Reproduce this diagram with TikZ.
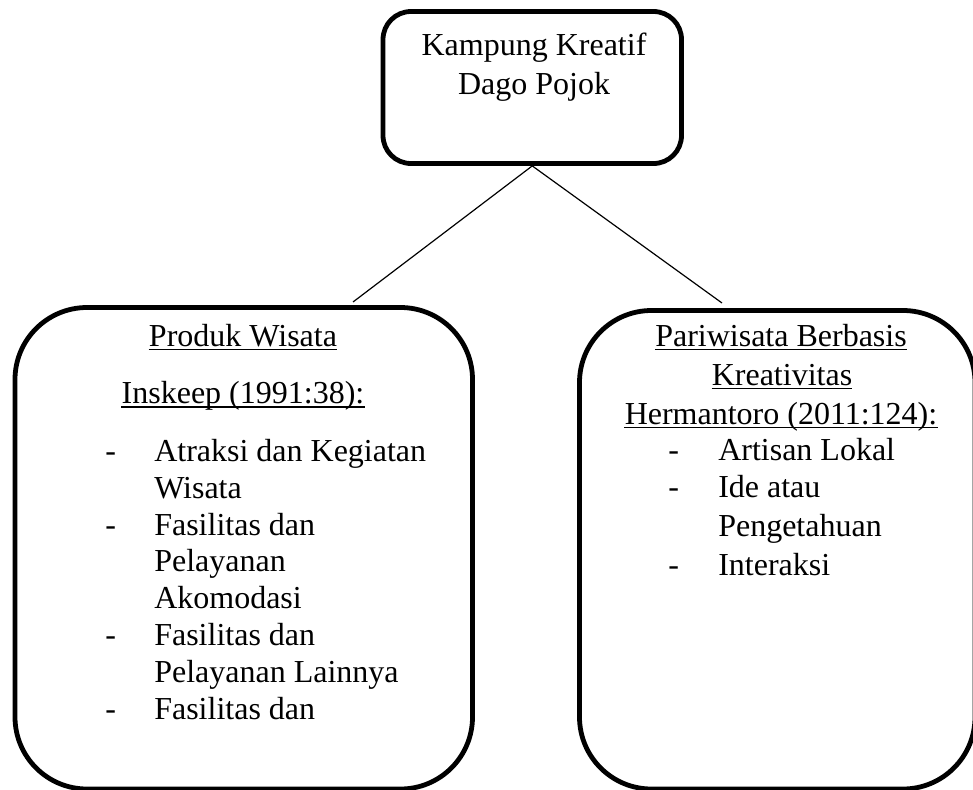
\documentclass[tikz,border=0pt]{standalone}
\usepackage{fontspec}
\setmainfont{Liberation Serif}
\usetikzlibrary{fit}

\begin{document}
\begin{tikzpicture}[
  x=0.75pt,
  y=-0.75pt,
  line join=round,
  box/.style={draw, line width=3.6pt, inner sep=0pt},
  txt/.style={inner sep=0pt, font=\fontsize{24}{28}\selectfont},
  link/.style={line width=0.9pt},
  uline/.style={line width=1.1pt}
]

\clip (0,0) rectangle (973,789);

% ---------- parameters ----------
\def\ul{2.6pt}       % underline depth
\def\lx{154}         % left list indent
\def\rx{718}         % right list indent

% ---------- boxes ----------
\coordinate (k1) at (383,11.5);
\coordinate (k2) at (681.5,163.5);
\node[box, rounded corners=21pt, fit=(k1)(k2)] (kampung) {};

\coordinate (p1) at (15,307.5);
\coordinate (p2) at (472.5,789);
\node[box, rounded corners=54pt, fit=(p1)(p2)] (produk) {};

\coordinate (b1) at (579.5,310.5);
\coordinate (b2) at (975,789);
\node[box, rounded corners=54pt, fit=(b1)(b2)] (berbasis) {};

% ---------- connectors ----------
\coordinate (jL) at (353,302);
\coordinate (jR) at (722,303);
\draw[link] (kampung.south) -- (jL);
\draw[link] (kampung.south) -- (jR);

% ---------- top text ----------
\node[txt, anchor=base] (kt1) at (534,55) {Kampung Kreatif};
\node[txt, anchor=base] (kt2) at (534,94.5) {Dago Pojok};

% ---------- underlined headings ----------
\foreach \n/\x/\y/\t in {
  hp/243/346/{Produk Wisata},
  hi/243/403.3/{Inskeep (1991:38):},
  hb1/781/346/{Pariwisata Berbasis},
  hb2/782/385/{Kreativitas},
  hh/781/424/{Hermantoro (2011:124):}
}{
  \node[txt, anchor=base] (\n) at (\x,\y) {\t};
  \draw[uline] ([yshift=-\ul]\n.base west) -- ([yshift=-\ul]\n.base east);
}

% ---------- left list ----------
\foreach \y [count=\i] in {461.7,535.7,645.7,719}
  \node[txt, anchor=base west] (pd\i) at (105,\y) {-};

\foreach \y/\t [count=\i] in {
  461.7/{Atraksi dan Kegiatan},
  498.3/{Wisata},
  535.7/{Fasilitas dan},
  571.7/{Pelayanan},
  608.3/{Akomodasi},
  645.7/{Fasilitas dan},
  682.3/{Pelayanan Lainnya},
  719/{Fasilitas dan}
}
  \node[txt, anchor=base west] (pi\i) at (\lx,\y) {\t};

% ---------- right list ----------
\foreach \y [count=\i] in {460.7,497.7,575}
  \node[txt, anchor=base west] (bd\i) at (668,\y) {-};

\foreach \y/\t [count=\i] in {
  460.7/{Artisan Lokal},
  497.7/{Ide atau},
  536.5/{Pengetahuan},
  575/{Interaksi}
}
  \node[txt, anchor=base west] (bi\i) at (\rx,\y) {\t};

\end{tikzpicture}
\end{document}
